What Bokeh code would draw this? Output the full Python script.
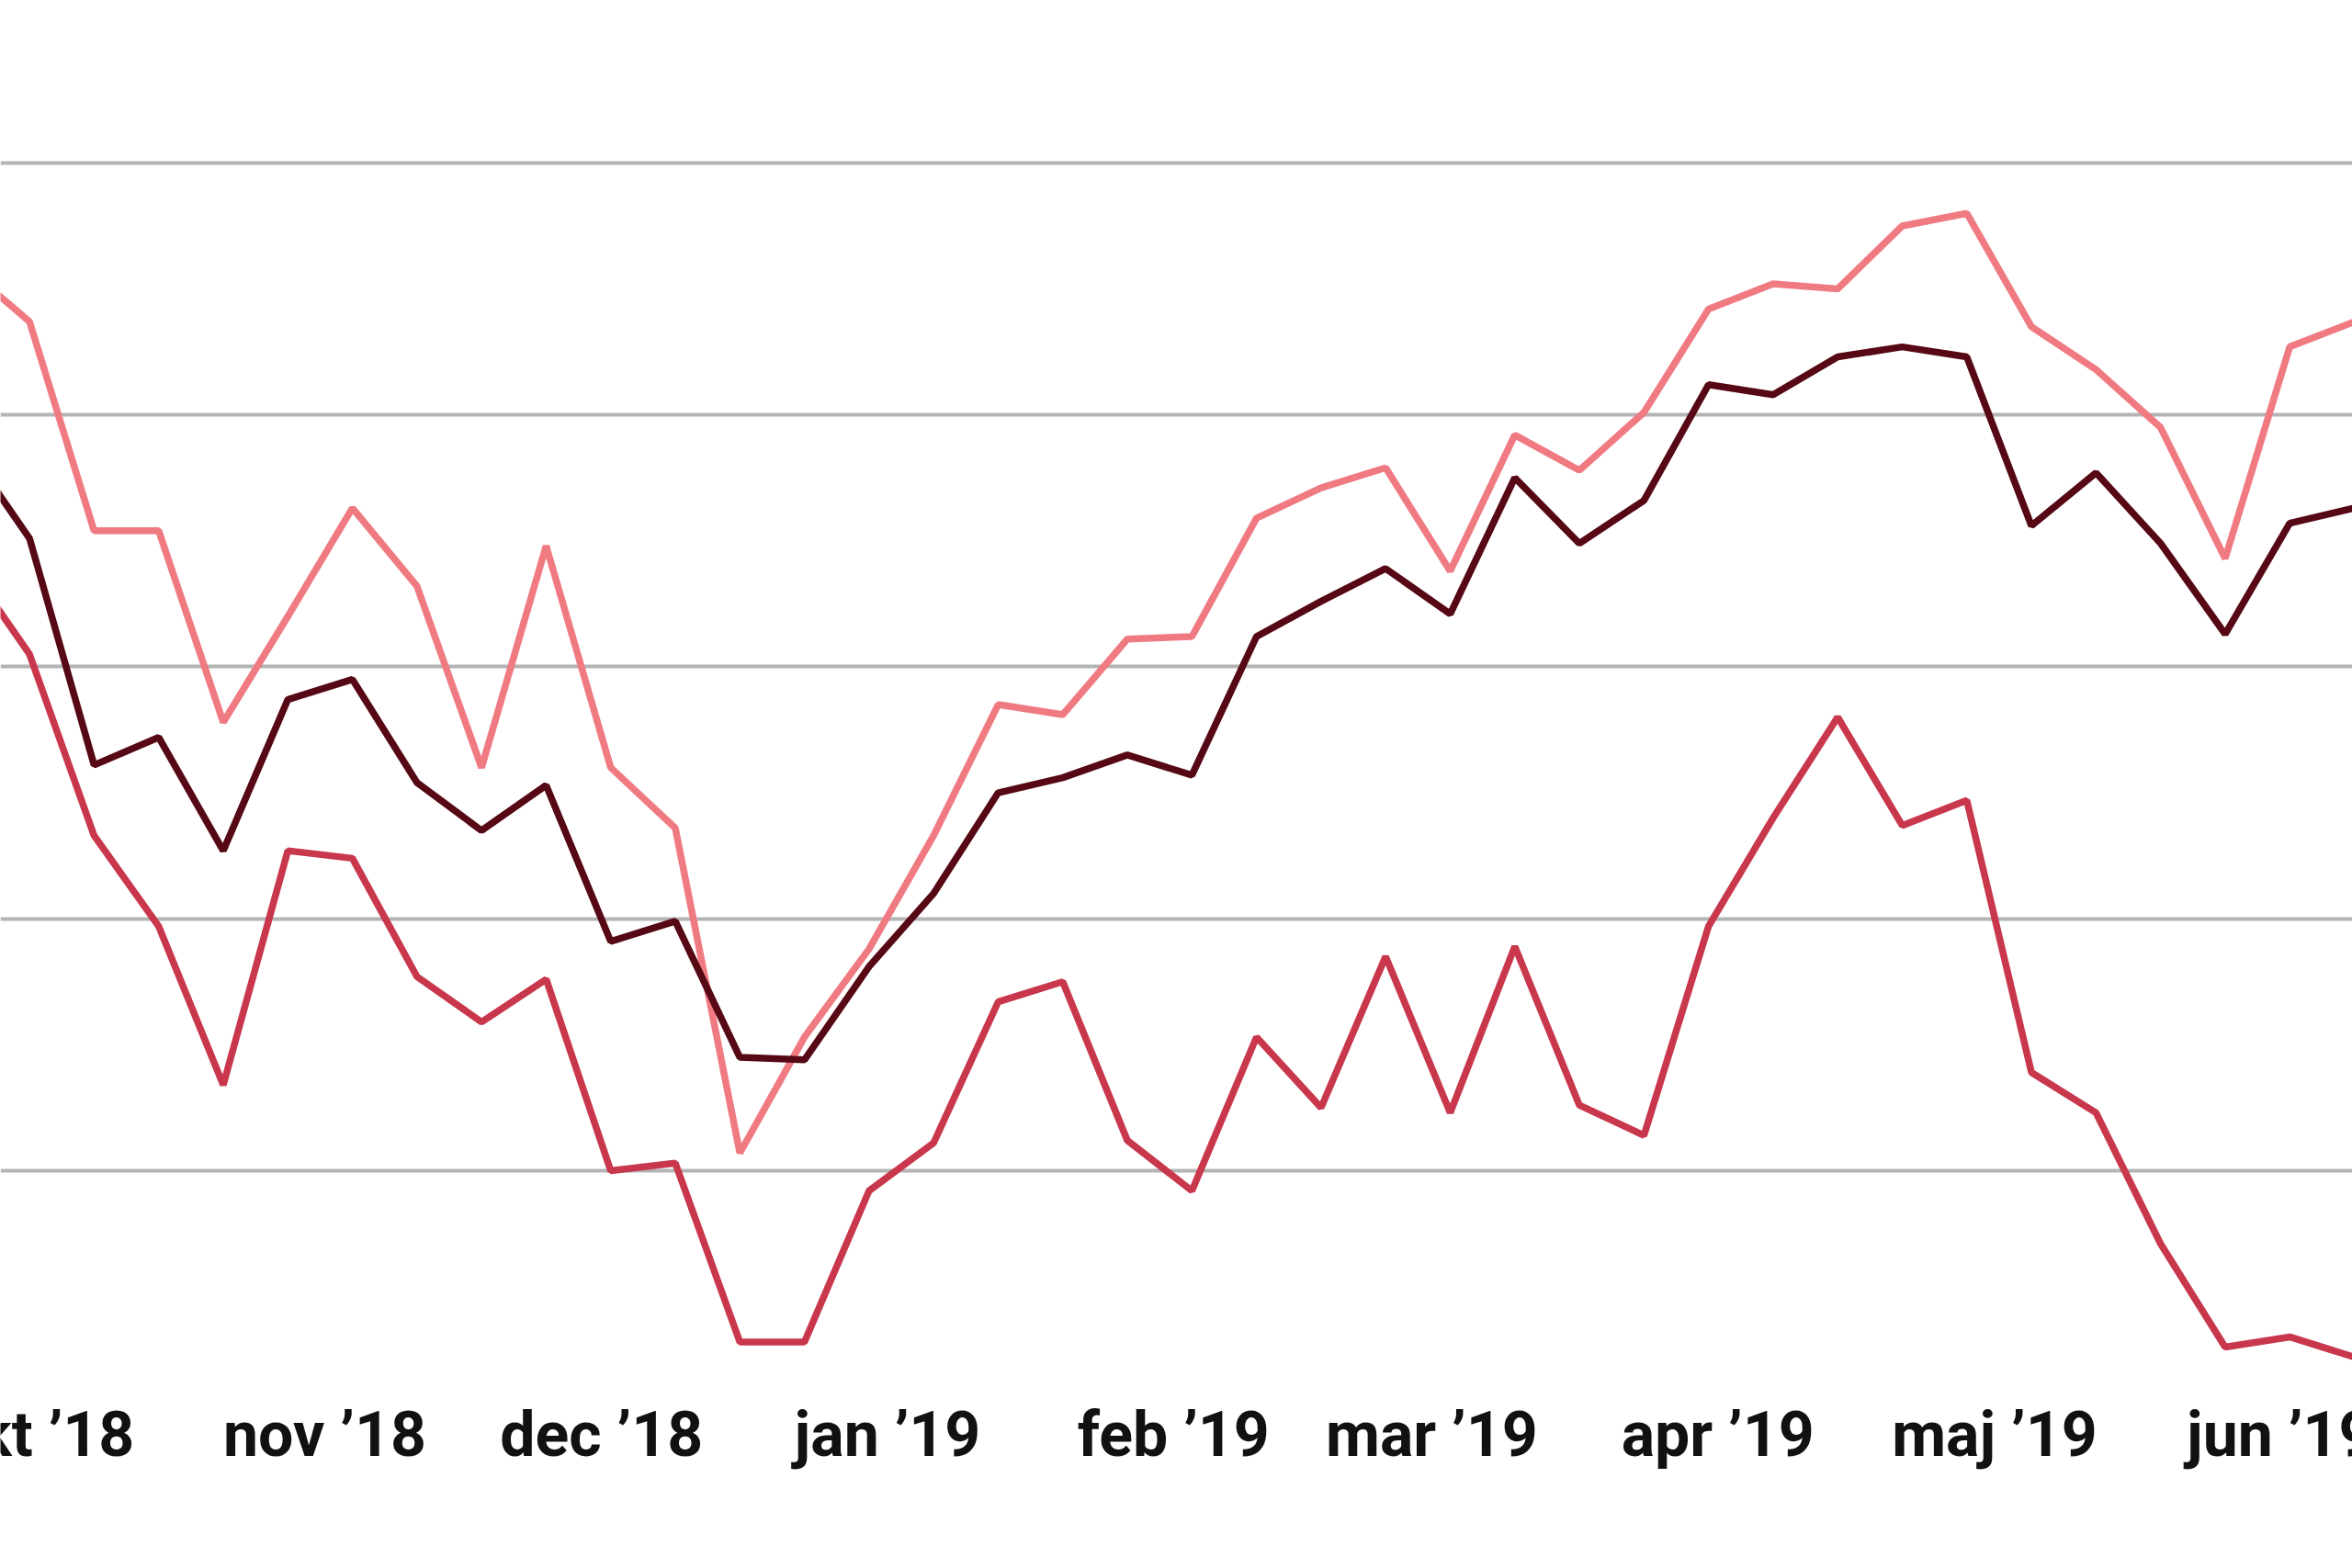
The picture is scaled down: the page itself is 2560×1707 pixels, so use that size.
import pandas as pd
from bokeh.plotting import figure
from bokeh.models import Range1d, FixedTicker
from bokeh.core.properties import value
from bokeh.embed import file_html
from bokeh.resources import INLINE

# weekly observations (first one lies just left of the visible area)
week_start = "2018-09-23"
n_weeks = 38
dates = pd.date_range(week_start, periods=n_weeks, freq="7D")

upper = [35.9, 33.7, 25.4, 25.4, 17.8, 22.0, 26.3, 23.2, 16.0, 24.8,
         16.0, 13.6, 0.7, 5.3, 8.8, 13.3, 18.5, 18.1, 21.1, 21.2,
         25.9, 27.1, 27.9, 23.8, 29.2, 27.8, 30.1, 34.2, 35.2, 35.0,
         37.5, 38.0, 33.5, 31.8, 29.5, 24.3, 32.7, 33.7]
middle = [28.8, 25.1, 16.1, 17.2, 12.7, 18.7, 19.5, 15.4, 13.5, 15.3,
          9.1, 9.9, 4.5, 4.4, 8.1, 11.0, 15.0, 15.6, 16.5, 15.7,
          21.2, 22.6, 23.9, 22.1, 27.5, 24.9, 26.6, 31.2, 30.8, 32.3,
          32.7, 32.3, 25.6, 27.7, 24.9, 21.3, 25.7, 26.3]
lower = [24.2, 20.5, 13.3, 9.7, 3.4, 12.7, 12.4, 7.7, 5.9, 7.6,
         0.0, 0.3, -6.8, -6.8, -0.8, 1.1, 6.7, 7.5, 1.2, -0.8,
         5.3, 2.5, 8.5, 2.3, 8.9, 2.6, 1.4, 9.7, 14.0, 18.0,
         13.7, 14.7, 3.9, 2.3, -2.9, -7.0, -6.6, -7.4]

month_starts = ["2018-10-01", "2018-11-01", "2018-12-01", "2019-01-01", "2019-02-01",
                "2019-03-01", "2019-04-01", "2019-05-01", "2019-06-01"]
month_labels = ["okt \u201918", "nov \u201918", "dec \u201918", "jan \u201919", "feb \u201919",
                "mar \u201919", "apr \u201919", "maj \u201919", "jun \u201919"]
grid_values = [0, 10, 20, 30, 40]

anchor = pd.Timestamp("2018-09-30")
x_start = anchor - pd.Timedelta(days=3.15)
x_end = anchor + pd.Timedelta(days=251.8)

p = figure(width=2560, height=1707, x_axis_type="datetime",
           output_backend="svg", toolbar_location=None,
           x_range=Range1d(x_start, x_end), y_range=Range1d(-15.79, 46.45),
           min_border_left=0, min_border_right=0, min_border_top=0,
           min_border_bottom=0)
p.outline_line_color = None
p.background_fill_color = "white"
p.border_fill_color = "white"

p.xaxis.visible = False
p.yaxis.visible = False
p.ygrid.ticker = FixedTicker(ticks=grid_values)
p.ygrid.grid_line_color = "#b4b4b4"
p.ygrid.grid_line_width = 4
p.xgrid.grid_line_color = None

p.line(dates, lower, line_color="#c8374c", line_width=7.5)
p.line(dates, upper, line_color="#f07a82", line_width=7.5)
p.line(dates, middle, line_color="#560814", line_width=7.5)

# month labels along the bottom (clipped at the chart edges like the original)
label_y = -10.5
tick_dates = pd.to_datetime(month_starts)
p.text(x=tick_dates, y=[label_y] * len(month_labels), text=month_labels,
       text_align="center", text_baseline="alphabetic",
       text_font=value("Roboto"), text_font_style="bold",
       text_font_size="68px", text_color="#111111")

open("out.html", "w").write(file_html(p, INLINE))
